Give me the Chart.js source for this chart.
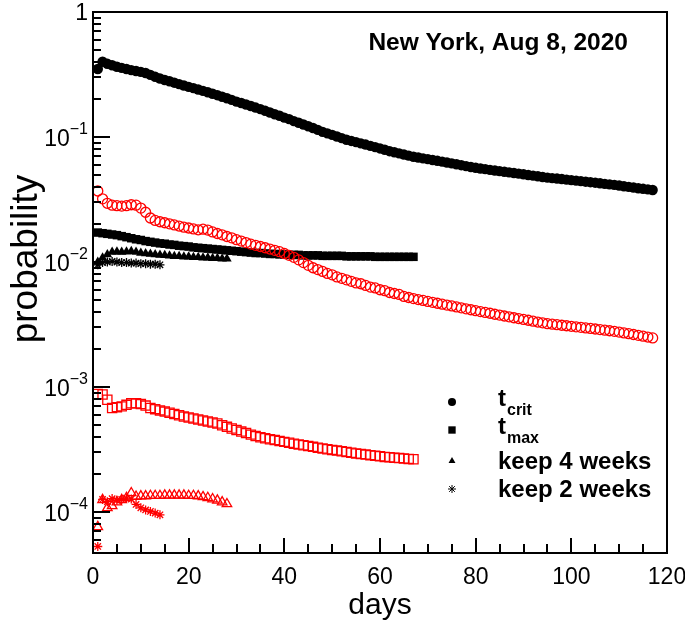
<!DOCTYPE html>
<html>
<head>
<meta charset="utf-8">
<script src="https://cdn.jsdelivr.net/npm/chart.js@4/dist/chart.umd.min.js"></script>
<style>
  html, body { margin: 0; padding: 0; background: #fff; }
</style>
</head>
<body>
<canvas id="probChart" width="685" height="625"></canvas>
<script>
// probabilities per day (black = upper family, red = lower family)
const tcritBlack = [0.35, 0.40, 0.385, 0.375, 0.365, 0.357, 0.350, 0.343, 0.337, 0.332,
  0.325, 0.314, 0.303, 0.294, 0.286, 0.279, 0.272, 0.265, 0.258, 0.252,
  0.246, 0.240, 0.234, 0.228, 0.222, 0.216, 0.210, 0.204, 0.198, 0.192,
  0.187, 0.182, 0.177, 0.172, 0.167, 0.162, 0.157, 0.152, 0.148, 0.143,
  0.139, 0.134, 0.130, 0.126, 0.122, 0.118, 0.114, 0.110, 0.107, 0.104,
  0.101, 0.098, 0.095, 0.093, 0.091, 0.089, 0.087, 0.085, 0.083, 0.081,
  0.079, 0.077, 0.0755, 0.074, 0.0725, 0.071, 0.0695, 0.0685, 0.0675, 0.0665,
  0.0655, 0.0645, 0.0635, 0.0625, 0.0615, 0.0605, 0.0595, 0.0585, 0.0575, 0.0567,
  0.0560, 0.0553, 0.0546, 0.0540, 0.0533, 0.0527, 0.0521, 0.0515, 0.0509, 0.0503,
  0.0497, 0.0491, 0.0485, 0.0479, 0.0473, 0.0469, 0.0465, 0.0461, 0.0456, 0.0452,
  0.0448, 0.0444, 0.0439, 0.0435, 0.0431, 0.0427, 0.0422, 0.0418, 0.0414, 0.0409,
  0.0404, 0.0399, 0.0394, 0.0389, 0.0385, 0.0381, 0.0377];
const tcritRed = [0.037, 0.032, 0.0295, 0.0285, 0.0282, 0.0280, 0.0282, 0.0287, 0.0285, 0.0270,
  0.0250, 0.0225, 0.0215, 0.0210, 0.0206, 0.0202, 0.0198, 0.0194, 0.0190, 0.0187,
  0.0184, 0.0181, 0.0183, 0.0180, 0.0174, 0.0169, 0.0165, 0.0160, 0.0156, 0.0151,
  0.0147, 0.0143, 0.0139, 0.0136, 0.0133, 0.0130, 0.0127, 0.0124, 0.0121, 0.0117,
  0.0113, 0.0109, 0.0104, 0.0099, 0.0094, 0.0090, 0.0087, 0.0084, 0.0081, 0.0079,
  0.0076, 0.0074, 0.0072, 0.0070, 0.0068, 0.0067, 0.0065, 0.0063, 0.0062, 0.0060,
  0.0059, 0.0057, 0.0056, 0.0055, 0.0053, 0.0052, 0.0051, 0.00501, 0.00493, 0.00484,
  0.00476, 0.00468, 0.00460, 0.00452, 0.00445, 0.00437, 0.00430, 0.00422, 0.00415, 0.00408,
  0.00401, 0.00395, 0.00389, 0.00382, 0.00376, 0.00370, 0.00364, 0.00358, 0.00353, 0.00347,
  0.00342, 0.00336, 0.00331, 0.00326, 0.00321, 0.00318, 0.00315, 0.00312, 0.00309, 0.00306,
  0.00303, 0.00300, 0.00297, 0.00294, 0.00291, 0.00288, 0.00285, 0.00282, 0.00279, 0.00275,
  0.00271, 0.00267, 0.00263, 0.00259, 0.00255, 0.00251, 0.00247];
const tmaxBlack = [0.0172, 0.0170, 0.0168, 0.0166, 0.0164, 0.0161, 0.0158, 0.0155, 0.0152, 0.0150,
  0.0147, 0.0145, 0.0143, 0.0141, 0.0140, 0.0138, 0.0137, 0.0135, 0.0134, 0.0133,
  0.0131, 0.0130, 0.0129, 0.0128, 0.0127, 0.0126, 0.0125, 0.0124, 0.0123, 0.0122,
  0.0121, 0.0120, 0.0119, 0.0118, 0.0118, 0.0117, 0.0116, 0.0116, 0.0115, 0.0115,
  0.0114, 0.0114, 0.0114, 0.0113, 0.0113, 0.0113, 0.0113, 0.0112, 0.0112, 0.0112,
  0.0112, 0.0112, 0.0111, 0.0111, 0.0111, 0.0111, 0.0111, 0.0111, 0.0110, 0.0110,
  0.0110, 0.0110, 0.0110, 0.0110, 0.0110, 0.0110, 0.0110];
const tmaxRed = [0.00088, 0.00087, 0.00079, 0.00068, 0.00069, 0.00070, 0.00072, 0.00074, 0.00074, 0.00073,
  0.00071, 0.00068, 0.000665, 0.00065, 0.000636, 0.000622, 0.000608, 0.000594, 0.00058, 0.00057,
  0.00056, 0.00055, 0.00054, 0.00053, 0.00052, 0.00051, 0.000495, 0.00048, 0.000466, 0.000453,
  0.00044, 0.000428, 0.000416, 0.000405, 0.000396, 0.000389, 0.000382, 0.000376, 0.000370, 0.000364,
  0.000358, 0.000352, 0.000347, 0.000342, 0.000337, 0.000332, 0.000327, 0.000322, 0.000318, 0.000314,
  0.000310, 0.000306, 0.000302, 0.000298, 0.000294, 0.000291, 0.000288, 0.000285, 0.000282, 0.000279,
  0.000276, 0.000274, 0.000272, 0.000270, 0.000268, 0.000266, 0.000264];
const keep4Black = [0.0100, 0.0108, 0.0115, 0.0120, 0.0121, 0.0120, 0.0121, 0.0122, 0.0120, 0.0118,
  0.0117, 0.0116, 0.0115, 0.0114, 0.0113, 0.0112, 0.0111, 0.0111, 0.0110, 0.0110,
  0.0109, 0.0109, 0.0108, 0.0108, 0.0107, 0.0107, 0.0106, 0.0106];
const keep4Red = [0.000076, 0.000125, 0.000108, 0.000112, 0.000120, 0.000125, 0.000130, 0.000142, 0.000133, 0.000134,
  0.000134, 0.000135, 0.000135, 0.000135, 0.000136, 0.000136, 0.000136, 0.000136, 0.000136, 0.000135,
  0.000135, 0.000134, 0.000132, 0.000130, 0.000127, 0.000124, 0.000120, 0.000116];
const keep2Black = [0.0095, 0.0099, 0.0100, 0.0101, 0.0100, 0.0099, 0.0099, 0.0098, 0.0098, 0.0097,
  0.0097, 0.0096, 0.0096, 0.0095];
const keep2Red = [0.000053, 0.000126, 0.000121, 0.000128, 0.000124, 0.000126, 0.000129, 0.000127, 0.000115, 0.000108,
  0.000104, 0.000101, 0.000098, 0.000095];

const firstDay = 1;
const xTickLabels = [0, 20, 40, 60, 80, 100, 120];
const yDecades = [1e-4, 1e-3, 1e-2, 1e-1, 1];
const legendNames = ['t', 't', 'keep 4 weeks', 'keep 2 weeks'];
const legendSubs = ['crit', 'max', '', ''];
const plotTitle = 'New York, Aug 8, 2020';

const FONT = '"Liberation Sans", Arial, sans-serif';
const RED = '#ff0000';

// day index -> {x, y}
const toPoints = vals => vals.map((v, i) => ({ x: i + firstDay, y: v }));

function filled(label, vals, style, radius) {
    return {
        label: label,
        data: toPoints(vals),
        pointStyle: style,
        pointRadius: radius,
        pointHoverRadius: radius,
        pointBackgroundColor: '#000',
        pointBorderColor: '#000',
        pointBorderWidth: style === 'star' ? 1.3 : 0
    };
}

function open(label, vals, style, radius) {
    return {
        label: label,
        data: toPoints(vals),
        pointStyle: style,
        pointRadius: radius,
        pointHoverRadius: radius,
        pointBackgroundColor: 'rgba(0,0,0,0)',
        pointBorderColor: RED,
        pointBorderWidth: 1.3
    };
}

const datasets = [
    open('t_crit red', tcritRed, 'circle', 5),
    open('t_max red', tmaxRed, 'rect', 6.5),
    open('keep 4 weeks red', keep4Red, 'triangle', 5.5),
    open('keep 2 weeks red', keep2Red, 'star', 4.5),
    filled('t_crit', tcritBlack, 'circle', 5.2),
    filled('t_max', tmaxBlack, 'rect', 6),
    filled('keep 4 weeks', keep4Black, 'triangle', 5.5),
    filled('keep 2 weeks', keep2Black, 'star', 4.5)
];

// ROOT-like frame, inward ticks, tick labels, titles and legend
const rootStyle = {
    id: 'rootStyle',
    afterDraw(chart) {
        const ctx = chart.ctx;
        const area = chart.chartArea;
        const xs = chart.scales.x;
        const ys = chart.scales.y;
        ctx.save();

        ctx.strokeStyle = '#000';
        ctx.lineWidth = 2;
        ctx.strokeRect(area.left, area.top, area.right - area.left, area.bottom - area.top);

        ctx.lineWidth = 2;
        ctx.beginPath();
        xs.ticks.forEach(t => {
            const px = Math.round(xs.getPixelForValue(t.value));
            const len = t.value % 20 === 0 ? 15 : 9;
            ctx.moveTo(px, area.bottom);
            ctx.lineTo(px, area.bottom - len);
        });
        ys.ticks.forEach(t => {
            const e = Math.floor(Math.log10(t.value) + 1e-9);
            const m = t.value / Math.pow(10, e);
            if (Math.abs(m - Math.round(m)) > 1e-6) return;
            const py = Math.round(ys.getPixelForValue(t.value));
            const len = Math.round(m) === 1 ? 17 : 8;
            ctx.moveTo(area.left, py);
            ctx.lineTo(area.left + len, py);
        });
        ctx.stroke();

        ctx.fillStyle = '#000';
        ctx.textBaseline = 'middle';

        // x tick labels
        ctx.font = '23px ' + FONT;
        ctx.textAlign = 'center';
        xTickLabels.forEach(v => {
            ctx.fillText(String(v), xs.getPixelForValue(v), area.bottom + 25);
        });

        // y tick labels
        const labelRight = area.left - 5;
        yDecades.forEach(v => {
            const py = ys.getPixelForValue(v);
            const exp = Math.round(Math.log10(v));
            if (exp === 0) {
                ctx.font = '23px ' + FONT;
                ctx.textAlign = 'right';
                ctx.fillText('1', labelRight, py + 2);
                return;
            }
            const sup = '\u2212' + Math.abs(exp);
            ctx.font = '16px ' + FONT;
            const supW = ctx.measureText(sup).width;
            ctx.textAlign = 'left';
            ctx.fillText(sup, labelRight - supW, py - 7);
            ctx.font = '23px ' + FONT;
            ctx.textAlign = 'right';
            ctx.fillText('10', labelRight - supW, py + 3);
        });

        // axis titles
        ctx.font = '30px ' + FONT;
        ctx.textAlign = 'center';
        ctx.fillText('days', (area.left + area.right) / 2, 606);
        ctx.save();
        ctx.font = '37px ' + FONT;
        ctx.translate(27, 259);
        ctx.rotate(-Math.PI / 2);
        ctx.fillText('probability', 0, 0);
        ctx.restore();

        // plot title
        ctx.font = 'bold 24.5px ' + FONT;
        ctx.textAlign = 'right';
        ctx.fillText(plotTitle, 628, 43);

        // legend
        const rows = [402, 430, 461, 489];
        const blackSets = datasets.slice(4);
        ctx.textAlign = 'left';
        ctx.textBaseline = 'alphabetic';
        legendNames.forEach((name, i) => {
            const ds = blackSets[i];
            const y = rows[i];
            ctx.fillStyle = '#000';
            ctx.strokeStyle = '#000';
            ctx.lineWidth = 1;
            Chart.helpers.drawPoint(ctx, {
                pointStyle: ds.pointStyle,
                radius: ds.pointStyle === 'rect' ? 5.2 : 4,
                rotation: 0,
                borderWidth: ds.pointStyle === 'star' ? 1 : 0
            }, 452, y);
            ctx.font = 'bold 24px ' + FONT;
            ctx.fillText(name, 498, y + (legendSubs[i] ? 4 : 8));
            if (legendSubs[i]) {
                const w = ctx.measureText(name).width;
                ctx.font = 'bold 16px ' + FONT;
                ctx.fillText(legendSubs[i], 498 + w + 1, y + 13);
            }
        });
        ctx.restore();
    }
};

new Chart(document.getElementById('probChart'), {
    type: 'scatter',
    data: { datasets: datasets },
    options: {
        responsive: false,
        animation: false,
        events: [],
        layout: { padding: { top: 12, right: 18, left: 0, bottom: 0 } },
        plugins: {
            legend: { display: false },
            tooltip: { enabled: false }
        },
        scales: {
            x: {
                type: 'linear',
                min: 0,
                max: 120,
                grid: { display: false, drawTicks: false },
                border: { display: false },
                ticks: { display: false, stepSize: 5 },
                afterFit: s => { s.height = 72; }
            },
            y: {
                type: 'logarithmic',
                min: 4.7e-5,
                max: 1,
                grid: { display: false, drawTicks: false },
                border: { display: false },
                ticks: { display: false },
                afterFit: s => { s.width = 93; }
            }
        }
    },
    plugins: [rootStyle]
});
</script>
</body>
</html>
